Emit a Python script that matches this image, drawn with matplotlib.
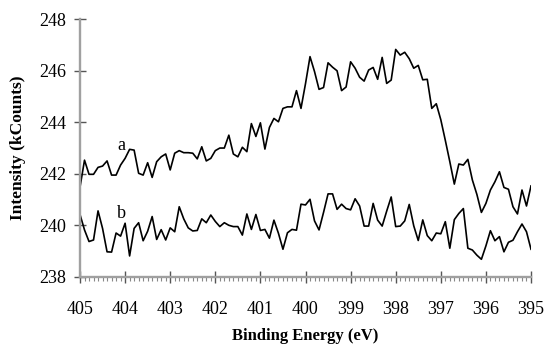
import matplotlib
matplotlib.use("Agg")
import matplotlib.pyplot as plt
import numpy as np

plt.rcParams['font.family'] = ['Liberation Serif', 'DejaVu Serif']

energy = np.round(np.linspace(405, 395, 101), 2)

series_a = [241.48, 242.53, 241.98, 241.98, 242.25, 242.30, 242.50, 241.95, 241.95, 242.34,
            242.60, 242.95, 242.92, 242.02, 241.95, 242.43, 241.86, 242.47, 242.66, 242.77,
            242.15, 242.80, 242.90, 242.82, 242.82, 242.80, 242.58, 243.05, 242.50, 242.60,
            242.90, 243.00, 243.00, 243.50, 242.77, 242.66, 243.03, 242.86, 243.95, 243.45,
            243.98, 242.96, 243.80, 244.15, 244.02, 244.54, 244.60, 244.60, 245.23, 244.54,
            245.50, 246.55, 245.97, 245.28, 245.35, 246.31, 246.14, 246.00, 245.23, 245.37,
            246.35, 246.10, 245.75, 245.60, 246.03, 246.13, 245.67, 246.52, 245.51, 245.64,
            246.83, 246.61, 246.72, 246.47, 246.10, 246.21, 245.65, 245.67, 244.54, 244.72,
            244.10, 243.30, 242.47, 241.60, 242.38, 242.34, 242.56, 241.76, 241.20, 240.50,
            240.85, 241.37, 241.69, 242.08, 241.47, 241.40, 240.72, 240.44, 241.37, 240.75,
            241.53]

series_b = [240.42, 239.82, 239.37, 239.43, 240.56, 239.88, 238.97, 238.96, 239.70, 239.58,
            240.08, 238.81, 239.88, 240.10, 239.40, 239.77, 240.34, 239.45, 239.83, 239.43,
            239.90, 239.75, 240.72, 240.25, 239.90, 239.78, 239.80, 240.25, 240.10, 240.40,
            240.15, 239.95, 240.10, 240.00, 239.95, 239.95, 239.62, 240.44, 239.84, 240.42,
            239.80, 239.84, 239.50, 240.20, 239.69, 239.07, 239.71, 239.84, 239.81, 240.82,
            240.79, 241.01, 240.17, 239.82, 240.50, 241.22, 241.22, 240.62, 240.82, 240.65,
            240.60, 241.03, 240.75, 239.97, 239.97, 240.85, 240.20, 239.97, 240.55, 241.10,
            239.95, 239.97, 240.17, 240.81, 239.98, 239.41, 240.21, 239.60, 239.40, 239.70,
            239.67, 240.14, 239.11, 240.22, 240.46, 240.65, 239.11, 239.04, 238.84, 238.68,
            239.20, 239.79, 239.40, 239.56, 238.97, 239.34, 239.42, 239.75, 240.05, 239.75,
            239.07]

x_ticks = [405, 404, 403, 402, 401, 400, 399, 398, 397, 396, 395]
y_ticks = [238, 240, 242, 244, 246, 248]

fig = plt.figure(figsize=(5.46, 3.44), dpi=100)
ax = fig.add_axes([80/546, 1 - 276.8/344, (531 - 80)/546, (276.8 - 19.3)/344])

ax.plot(energy, series_a, color='black', lw=1.2)
ax.plot(energy, series_b, color='black', lw=1.2)

ax.set_xlim(405, 395)
ax.set_ylim(238, 248)
ax.set_xticks(x_ticks)
ax.set_xticklabels([str(t) for t in x_ticks])
ax.set_xticks(np.linspace(405, 395, 101), minor=True)
ax.set_yticks(y_ticks)
ax.set_yticklabels([str(t) for t in y_ticks])

for s in ['top', 'right']:
    ax.spines[s].set_visible(False)
for s in ['left', 'bottom']:
    ax.spines[s].set_color('#a0a0a0')
    ax.spines[s].set_linewidth(1.7)

ax.tick_params(axis='both', which='major', direction='inout', length=8.5, width=1.0,
               color='#555555', labelsize=13)
ax.tick_params(axis='x', which='major', pad=13)
ax.tick_params(axis='y', which='major', pad=6)
ax.tick_params(axis='x', which='minor', direction='out', length=3, width=0.8, color='#888888')

ax.text(404.09, 243.08, 'a', fontsize=13, ha='center', va='center')
ax.text(404.09, 240.44, 'b', fontsize=13, ha='center', va='center')

ax.set_xlabel('Binding Energy (eV)', fontsize=12, fontweight='bold', labelpad=7.5)
ax.set_ylabel('Intensity (kCounts)', fontsize=12.5, fontweight='bold', labelpad=9.5)

fig.savefig('out.png', dpi=100)
